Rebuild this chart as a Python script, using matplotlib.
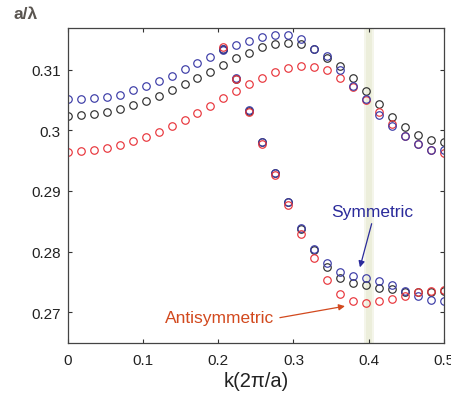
import numpy as np
import matplotlib
matplotlib.use("Agg")
import matplotlib.pyplot as plt

plt.rcParams["font.family"] = ["Liberation Sans", "DejaVu Sans"]

# --- data ---
k = np.linspace(0, 0.5, 30)          # 30 k-points, 0 .. 0.5
k_lo = k[12:]                        # lower band starts at the 13th point

blue_up = [0.3051, 0.3051, 0.3053, 0.3055, 0.3059, 0.3066, 0.3073, 0.3082, 0.3090, 0.3101,
           0.3111, 0.3121, 0.3133, 0.3141, 0.3147, 0.3154, 0.3158, 0.3157, 0.3150, 0.3135,
           0.3123, 0.3099, 0.3073, 0.3051, 0.3025, 0.3007, 0.2991, 0.2977, 0.2968, 0.2968]
black_up = [0.3024, 0.3025, 0.3027, 0.3031, 0.3036, 0.3042, 0.3049, 0.3056, 0.3066, 0.3076,
            0.3086, 0.3097, 0.3108, 0.3119, 0.3128, 0.3137, 0.3143, 0.3144, 0.3143, 0.3135,
            0.3120, 0.3107, 0.3086, 0.3065, 0.3043, 0.3022, 0.3005, 0.2993, 0.2984, 0.2981]
red_up = [0.2964, 0.2966, 0.2968, 0.2971, 0.2976, 0.2982, 0.2989, 0.2998, 0.3007, 0.3017,
          0.3028, 0.3040, 0.3053, 0.3065, 0.3077, 0.3087, 0.3097, 0.3103, 0.3106, 0.3105,
          0.3099, 0.3087, 0.3072, 0.3050, 0.3031, 0.3011, 0.2991, 0.2978, 0.2967, 0.2963]

blue_lo = [0.3134, 0.3086, 0.3033, 0.2981, 0.2930, 0.2882, 0.2839, 0.2804, 0.2781,
           0.2767, 0.2760, 0.2757, 0.2751, 0.2745, 0.2735, 0.2726, 0.2720, 0.2719]
black_lo = [0.3135, 0.3085, 0.3032, 0.2980, 0.2929, 0.2881, 0.2838, 0.2803, 0.2775,
            0.2757, 0.2748, 0.2745, 0.2740, 0.2738, 0.2734, 0.2733, 0.2734, 0.2735]
red_lo = [0.3138, 0.3084, 0.3030, 0.2978, 0.2926, 0.2877, 0.2829, 0.2789, 0.2753,
          0.2730, 0.2719, 0.2716, 0.2718, 0.2722, 0.2727, 0.2733, 0.2735, 0.2736]

xticks = [0, 0.1, 0.2, 0.3, 0.4, 0.5]
xticklabels = ["0", "0.1", "0.2", "0.3", "0.4", "0.5"]
yticks = [0.27, 0.28, 0.29, 0.30, 0.31]
yticklabels = ["0.27", "0.28", "0.29", "0.3", "0.31"]

CB, CK, CR = "#3a3aa6", "#2e2e2e", "#e8343a"

fig = plt.figure(figsize=(4.52, 4.02), dpi=100)
ax = fig.add_axes([0.150, 0.144, 0.832, 0.784])

# faint highlighted band at k = 0.4
ax.axvspan(0.394, 0.407, color="#f4f5ea", lw=0, zorder=0)
ax.axvspan(0.397, 0.404, color="#eceedb", lw=0, zorder=0)

mk = dict(ls="none", marker="o", ms=5.4, mfc="none", mew=0.85)
for kk, y, c in [(k, black_up, CK), (k, red_up, CR), (k, blue_up, CB),
                 (k_lo, black_lo, CK), (k_lo, blue_lo, CB), (k_lo, red_lo, CR)]:
    ax.plot(kk, y, mec=c, **mk)

ax.set_xlim(0, 0.5)
ax.set_ylim(0.2649, 0.3169)
ax.set_xticks(xticks, xticklabels)
ax.set_yticks(yticks, yticklabels)
ax.tick_params(direction="in", top=True, right=True, length=3, width=0.8,
               labelsize=11, colors="#333333", labelcolor="#222222")
ax.tick_params(axis="x", pad=7)
ax.tick_params(axis="y", pad=5)
for s in ax.spines.values():
    s.set_color("#444444")
    s.set_linewidth(0.9)

ax.set_xlabel("k(2π/a)", fontsize=14.5, color="#222222", labelpad=3)
fig.text(0.029, 0.963, "a/λ", fontsize=12.5, fontweight="bold", color="#5a5550",
         ha="left", va="center")

# annotations
ax.text(0.4045, 0.2866, "Symmetric", color="#2b2b9b", fontsize=12.5, ha="center", va="center")
ax.annotate("", xy=(0.3884, 0.2774), xytext=(0.404, 0.2846),
            arrowprops=dict(arrowstyle="-|>", color="#2b2b9b", lw=0.9,
                            mutation_scale=9, shrinkA=0, shrinkB=0))
ax.text(0.2015, 0.2691, "Antisymmetric", color="#d2491e", fontsize=12.5, ha="center", va="center")
ax.annotate("", xy=(0.3685, 0.2710), xytext=(0.282, 0.2691),
            arrowprops=dict(arrowstyle="-|>", color="#d2491e", lw=0.9,
                            mutation_scale=9, shrinkA=0, shrinkB=0))

fig.savefig("out.png", dpi=100)
